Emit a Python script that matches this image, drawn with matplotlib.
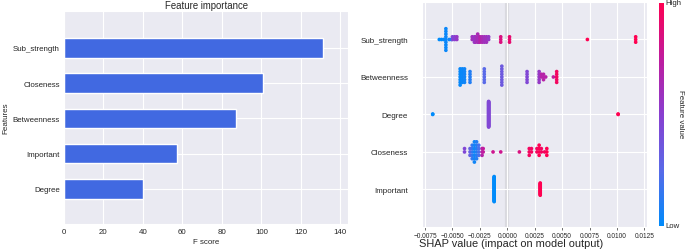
import matplotlib.pyplot as plt
import numpy as np
import seaborn as sns
from matplotlib.colors import LinearSegmentedColormap

# left panel: xgboost F scores
imp_features = ["Degree", "Important", "Betweenness", "Closeness", "Sub_strength"]
imp_scores = [40, 57, 87, 101, 131]

# right panel: SHAP summary, rows bottom -> top
shap_features = ["Important", "Closeness", "Degree", "Betweenness", "Sub_strength"]

# clusters: shap value, number of stacked dots, feature value (0 low .. 1 high)
sub_x = [-0.0062, -0.0060, -0.0058, -0.0056, -0.0053, -0.0051, -0.0050, -0.0048, -0.0046,
         -0.0032, -0.0030, -0.0029, -0.0027, -0.0026, -0.0025, -0.0023, -0.0021, -0.0019,
         -0.0017, -0.0006, 0.0002, 0.0073, 0.0117]
sub_n = [1, 1, 1, 9, 1, 1, 2, 2, 2, 2, 3, 3, 4, 3, 3, 3, 3, 3, 2, 3, 3, 1, 3]
sub_c = [0.0, 0.0, 0.02, 0.03, 0.05, 0.05, 0.45, 0.5, 0.55, 0.6, 0.55, 0.6, 0.65, 0.6,
         0.7, 0.65, 0.6, 0.6, 0.55, 0.85, 0.9, 1.0, 1.0]

btw_x = [-0.0043, -0.0041, -0.0039, -0.0034, -0.0021, -0.0005, 0.0018, 0.0029,
         0.0031, 0.0033, 0.0035, 0.0042, 0.0045]
btw_n = [7, 6, 6, 5, 6, 8, 5, 5, 2, 3, 1, 1, 5]
btw_c = [0.02, 0.03, 0.05, 0.1, 0.25, 0.35, 0.45, 0.55, 0.7, 0.7, 0.7, 0.75, 0.95]

deg_x = [-0.0068, -0.0017, 0.0101]
deg_n = [2, 56, 2]
deg_c = [0.0, 0.45, 1.0]

clo_x = [-0.0039, -0.0034, -0.0032, -0.0030, -0.0028, -0.0026, -0.0023, -0.0022, -0.0013,
         -0.0006, 0.0011, 0.0020, 0.0022, 0.0027, 0.0029, 0.0031, 0.0034, 0.0036]
clo_n = [2, 3, 5, 7, 6, 4, 3, 2, 1, 1, 1, 3, 2, 2, 4, 2, 1, 3]
clo_c = [0.45, 0.3, 0.15, 0.05, 0.1, 0.2, 0.7, 0.75, 0.8, 0.8, 0.85, 0.95, 0.95, 0.95,
         1.0, 0.95, 0.95, 1.0]

imp_x = [-0.0012, 0.0030]
imp_n = [40, 20]
imp_c = [0.0, 1.0]

shap_data = [
    (imp_x, imp_n, imp_c),
    (clo_x, clo_n, clo_c),
    (deg_x, deg_n, deg_c),
    (btw_x, btw_n, btw_c),
    (sub_x, sub_n, sub_c),
]

sns.set_style("darkgrid")
plt.rcParams["font.family"] = ["Liberation Sans", "DejaVu Sans"]
text_col = "#262626"

red_blue = LinearSegmentedColormap.from_list(
    "red_blue", ["#008bfb", "#5a6ae8", "#8a3fd0", "#c01c9e", "#ff0051"])

fig = plt.figure(figsize=(6.85, 2.51), dpi=100)

# ---- feature importance
ax1 = fig.add_axes([0.0934, 0.104, 0.415, 0.848])
ypos = np.arange(len(imp_features))
ax1.barh(ypos, imp_scores, height=0.56, color="#4169e1")
ax1.set_yticks(ypos)
ax1.set_yticklabels(imp_features)
ax1.set_xlim(0, 144)
ax1.set_ylim(-1, 5.05)
ax1.set_xticks(np.arange(0, 141, 20))
ax1.tick_params(axis="both", labelsize=5.7, length=0, pad=3, colors=text_col)
ax1.set_title("Feature importance", fontsize=6.9, pad=2, color=text_col)
ax1.set_xlabel("F score", fontsize=5.7, labelpad=2, color=text_col)
ax1.set_ylabel("Features", fontsize=5.8, labelpad=2, color=text_col)
ax1.grid(color="white", linewidth=0.8)

# ---- SHAP summary
ax2 = fig.add_axes([0.616, 0.092, 0.328, 0.896])
row_height = 0.4
for row, (xs, ns, cs) in enumerate(shap_data):
    kmax = max(n // 2 for n in ns)
    step = 0.9 * row_height / (kmax + 1)
    px, py, pc = [], [], []
    for x, n, c in zip(xs, ns, cs):
        for i in range(n):
            k = (i + 1) // 2 * (1 if i % 2 else -1)
            px.append(x)
            py.append(row + k * step)
            pc.append(c)
    ax2.scatter(px, py, c=pc, cmap=red_blue, vmin=0, vmax=1, s=7,
                linewidths=0, zorder=3)

ax2.axvline(0, color="#d9d9df", linewidth=3, zorder=0.4)
ax2.set_xlim(-0.00778, 0.0127)
ax2.set_ylim(-1, 5)
ax2.set_yticks(range(len(shap_features)))
ax2.set_yticklabels(shap_features)
ticks = np.arange(-0.0075, 0.01251, 0.0025)
ax2.set_xticks(ticks)
ax2.set_xticklabels([f"{v:.4f}".replace("-", "\u2212") for v in ticks])
ax2.tick_params(axis="y", labelsize=5.8, length=0, pad=10, colors=text_col)
ax2.tick_params(axis="x", labelsize=4.7, length=2, width=0.6, pad=1.5,
                colors=text_col, color="#555555", bottom=True)
ax2.set_xlabel("SHAP value (impact on model output)", fontsize=7.9, color=text_col)
ax2.xaxis.set_label_coords(0.396, -0.048)
ax2.grid(color="white", linewidth=0.8)

# ---- colorbar
cax = fig.add_axes([0.962, 0.096, 0.006, 0.89])
grad = np.linspace(0, 1, 256).reshape(-1, 1)
cax.imshow(grad, aspect="auto", cmap=red_blue, origin="lower", extent=[0, 1, 0, 1])
cax.set_axis_off()
fig.text(0.971, 0.985, "High", fontsize=5.6, va="center", ha="left", color=text_col)
fig.text(0.971, 0.096, "Low", fontsize=5.6, va="center", ha="left", color=text_col)
fig.text(0.998, 0.545, "Feature value", fontsize=5.7, rotation=270, va="center",
         ha="right", color=text_col)

fig.savefig("out.png", dpi=100)
